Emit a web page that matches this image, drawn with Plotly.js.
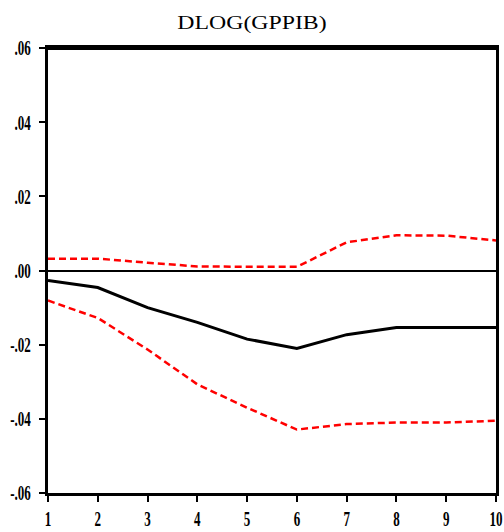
<!DOCTYPE html>
<html>
<head>
<meta charset="utf-8">
<script src="https://cdn.plot.ly/plotly-3.0.1.min.js"></script>
<style>
  html, body { margin: 0; padding: 0; background: #fff; }
  #chart { width: 504px; height: 532px; }
</style>
</head>
<body>
<div id="chart"></div>
<script>
// Response of DLOG(GPPIB) over 10 periods with +/- 2 S.E. bands
const periods = [1, 2, 3, 4, 5, 6, 7, 8, 9, 10];
const response = [-0.0027, -0.0046, -0.0100, -0.0140, -0.0185, -0.0210, -0.0173, -0.0154, -0.0154, -0.0154];
const upperBand = [0.0032, 0.0032, 0.0021, 0.0011, 0.0010, 0.0010, 0.0076, 0.0095, 0.0094, 0.0081];
const lowerBand = [-0.0081, -0.0128, -0.0213, -0.0307, -0.0370, -0.0429, -0.0414, -0.0410, -0.0410, -0.0405];

const yTickVals = [0.06, 0.04, 0.02, 0.00, -0.02, -0.04, -0.06];
const yTickText = ['.06', '.04', '.02', '.00', '-.02', '-.04', '-.06'];
const chartTitle = 'DLOG(GPPIB)';

const traces = [
  {
    x: periods, y: upperBand, mode: 'lines', type: 'scatter',
    line: { color: '#ff0000', width: 2.5, dash: '7px,4px' }, hoverinfo: 'skip'
  },
  {
    x: periods, y: lowerBand, mode: 'lines', type: 'scatter',
    line: { color: '#ff0000', width: 2.5, dash: '7px,4px' }, hoverinfo: 'skip'
  },
  {
    x: periods, y: response, mode: 'lines', type: 'scatter',
    line: { color: '#000000', width: 3 }, hoverinfo: 'skip'
  }
];

const tickFont = { family: 'Liberation Serif, Times New Roman, serif', size: 21, color: '#000', weight: 'bold' };

const layout = {
  width: 504, height: 532,
  margin: { l: 48, r: 8, t: 48, b: 39 },
  paper_bgcolor: '#fff', plot_bgcolor: '#fff',
  showlegend: false,
  title: {
    text: chartTitle,
    font: { family: 'Liberation Serif, Times New Roman, serif', size: 19.5, color: '#000' },
    x: 0.5, xanchor: 'center', y: 0.958, yanchor: 'middle'
  },
  xaxis: {
    range: [1, 10], tickvals: periods, ticktext: periods.map(String),
    ticks: 'outside', ticklen: 6, tickwidth: 2, tickcolor: '#000',
    showline: true, linecolor: '#000', linewidth: 3, mirror: true,
    showgrid: false, zeroline: false, ticklabelstandoff: -1,
    ticklabeloverflow: 'allow',
    tickfont: tickFont
  },
  yaxis: {
    range: [-0.06, 0.06], tickvals: yTickVals, ticktext: yTickText,
    ticks: 'outside', ticklen: 6, tickwidth: 2, tickcolor: '#000',
    showline: true, linecolor: '#000', linewidth: 3, mirror: true,
    showgrid: false, zeroline: true, zerolinecolor: '#000', zerolinewidth: 2,
    ticklabelstandoff: 4, ticklabeloverflow: 'allow',
    tickfont: tickFont
  },
  shapes: [
    { type: 'line', xref: 'paper', yref: 'y', x0: 0, x1: 1, y0: 0.06, y1: 0.06,
      line: { color: '#000', width: 4 } }
  ]
};

// Narrow the tick label glyphs and widen the title glyphs, EViews-style
function fitText(selector, scale) {
  document.querySelectorAll(selector).forEach(el => {
    const len = el.getComputedTextLength();
    if (len > 0) {
      el.setAttribute('textLength', (len * scale).toFixed(2));
      el.setAttribute('lengthAdjust', 'spacingAndGlyphs');
    }
  });
}

Plotly.newPlot('chart', traces, layout, { displayModeBar: false, staticPlot: true }).then(() => {
  fitText('#chart .xtick text, #chart .ytick text', 0.62);
  fitText('#chart .gtitle', 1.22);
});
</script>
</body>
</html>
